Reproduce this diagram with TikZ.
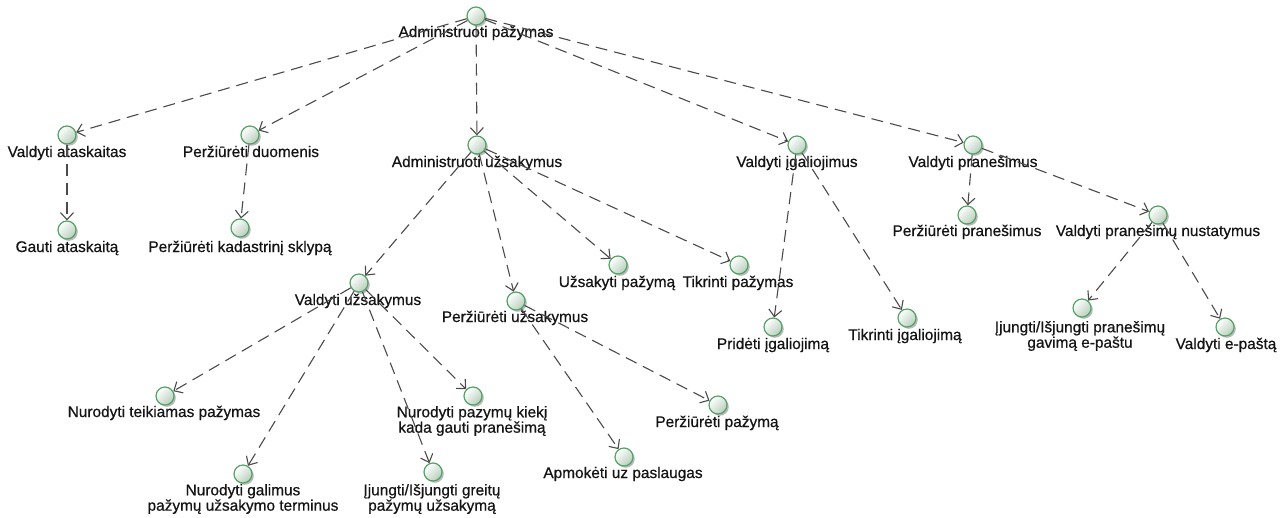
\documentclass[tikz,border=0pt]{standalone}
\usepackage{fontspec}
\setmainfont{Liberation Sans}
\newfontfamily\ucfont{Liberation Sans}[FakeBold=0.6]
\usetikzlibrary{arrows.meta,shadows}
\definecolor{ucborder}{HTML}{55A266}
\definecolor{ucfill}{HTML}{B8CEBD}
\definecolor{edgegray}{HTML}{4A4A4A}
\definecolor{ink}{HTML}{141414}
\begin{document}
\begin{tikzpicture}[x=1pt,y=-1pt,
  usecase/.style={circle, minimum size=18pt, inner sep=0pt, draw=ucborder,
    line width=1.2pt, top color=white, bottom color=ucfill, shading angle=45,
    drop shadow={shadow xshift=1.8pt, shadow yshift=-1.8pt, opacity=0.45, fill=black!60}},
  uclabel/.style={font=\ucfont\fontsize{15.4}{14}\selectfont, text=ink, inner sep=0pt,
    text height=11pt, text depth=3pt},
  uclabel2/.style={font=\ucfont\fontsize{15.4}{14}\selectfont, text=ink, inner sep=0pt, align=center},
  dep/.style={draw=edgegray, line width=1.1pt, dash pattern=on 12pt off 7pt,
    -{Straight Barb[length=7pt,width=13pt,line width=1.1pt]}}]
\useasboundingbox (0,0) rectangle (1287,517);

% use cases: circle + caption
\node[usecase] (ap) at (476,16) {};
\node[uclabel] at (476,33) {Administruoti pažymas};
\node[usecase] (va) at (67,135) {};
\node[uclabel] at (67,153) {Valdyti ataskaitas};
\node[usecase] (ga) at (67,230) {};
\node[uclabel] at (67,248) {Gauti ataskaitą};
\node[usecase] (pd) at (250,135) {};
\node[uclabel] at (251,153) {Peržiūrėti duomenis};
\node[usecase] (pk) at (240,228) {};
\node[uclabel] at (240,248) {Peržiūrėti kadastrinį sklypą};
\node[usecase] (au) at (477,145) {};
\node[uclabel] at (477,163) {Administruoti užsakymus};
\node[usecase] (up) at (618,265) {};
\node[uclabel] at (617,283) {Užsakyti pažymą};
\node[usecase] (tp) at (739,265) {};
\node[uclabel] at (738,283) {Tikrinti pažymas};
\node[usecase] (vi) at (797,145) {};
\node[uclabel] at (797,163) {Valdyti įgaliojimus};
\node[usecase] (vp) at (973,145) {};
\node[uclabel] at (973,163) {Valdyti pranešimus};
\node[usecase] (pp) at (967,215) {};
\node[uclabel] at (967,232) {Peržiūrėti pranešimus};
\node[usecase] (vn) at (1158,215) {};
\node[uclabel] at (1158,232) {Valdyti pranešimų nustatymus};
\node[usecase] (ie) at (1082,308) {};
\node[uclabel2] at (1080,336) {Įjungti/Išjungti pranešimų\\gavimą e-paštu};
\node[usecase] (ve) at (1225,327) {};
\node[uclabel] at (1226,345) {Valdyti e-paštą};
\node[usecase] (pi) at (773,327) {};
\node[uclabel] at (773,345) {Pridėti įgaliojimą};
\node[usecase] (ti) at (907,318) {};
\node[uclabel] at (905,336) {Tikrinti įgaliojimą};
\node[usecase] (vu) at (359,283) {};
\node[uclabel] at (358,301) {Valdyti užsakymus};
\node[usecase] (pu) at (516,301) {};
\node[uclabel] at (515,318) {Peržiūrėti užsakymus};
\node[usecase] (nk) at (473,396) {};
\node[uclabel2] at (472,421) {Nurodyti pazymų kiekį\\kada gauti pranešimą};
\node[usecase] (ig) at (433,472) {};
\node[uclabel2] at (432,499) {Įjungti/Išjungti greitų\\pažymų užsakymą};
\node[usecase] (ng) at (243,474) {};
\node[uclabel2] at (243,499) {Nurodyti galimus\\pažymų užsakymo terminus};
\node[usecase] (nt) at (165,396) {};
\node[uclabel] at (164,413) {Nurodyti teikiamas pažymas};
\node[usecase] (apm) at (624,457) {};
\node[uclabel] at (623,474) {Apmokėti uz paslaugas};
\node[usecase] (ppz) at (718,405) {};
\node[uclabel] at (717,423) {Peržiūrėti pažymą};

% dependencies
\draw[dep] (ap) -- (va);
\draw[dep] (ap) -- (pd);
\draw[dep] (ap) -- (au);
\draw[dep] (ap) -- (vi);
\draw[dep] (ap) -- (vp);
\draw[dep] (va) -- (ga);
\draw[dep] (pd) -- (pk);
\draw[dep] (au) -- (vu);
\draw[dep] (au) -- (pu);
\draw[dep] (au) -- (up);
\draw[dep] (au) -- (tp);
\draw[dep] (vi) -- (pi);
\draw[dep] (vi) -- (ti);
\draw[dep] (vp) -- (pp);
\draw[dep] (vp) -- (vn);
\draw[dep] (vn) -- (ie);
\draw[dep] (vn) -- (ve);
\draw[dep] (vu) -- (nt);
\draw[dep] (vu) -- (ng);
\draw[dep] (vu) -- (ig);
\draw[dep] (vu) -- (nk);
\draw[dep] (pu) -- (apm);
\draw[dep] (pu) -- (ppz);
\end{tikzpicture}
\end{document}
